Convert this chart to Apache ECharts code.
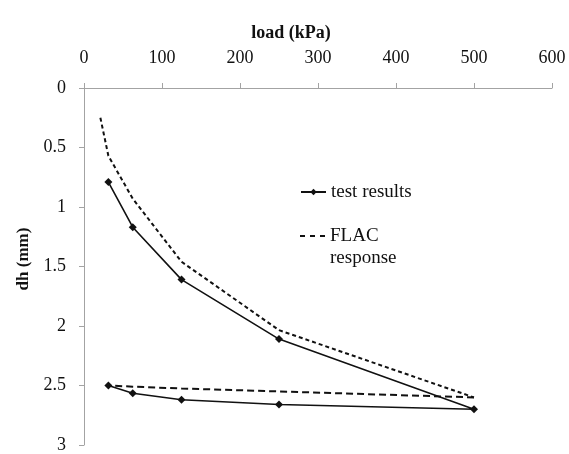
<!DOCTYPE html>
<html>
<head>
<meta charset="utf-8">
<script src="https://cdn.jsdelivr.net/npm/echarts@6/dist/echarts.min.js"></script>
<style>
html,body{margin:0;padding:0;background:#fff;}
#chart{width:569px;height:454px;}
</style>
</head>
<body>
<div id="chart"></div>
<script>
// ---- data ----
var xTicks = [0, 100, 200, 300, 400, 500, 600];
var yTicks = [0, 0.5, 1, 1.5, 2, 2.5, 3];

var testLoad = [31.25, 62.5, 125, 250, 500, 250, 125, 62.5, 31.25];
var testDh   = [0.79, 1.17, 1.61, 2.11, 2.70, 2.66, 2.62, 2.565, 2.50];

var flacLoadUp = [21, 31.25, 62.5, 125, 250, 500];
var flacDhUp   = [0.25, 0.57, 0.93, 1.46, 2.035, 2.60];

var flacLoadDown = [500, 250, 125, 62.5, 31.25];
var flacDhDown   = [2.60, 2.55, 2.525, 2.51, 2.50];

function pairs(xs, ys) { return xs.map(function (x, i) { return [x, ys[i]]; }); }

var serif = '"Liberation Serif", "Times New Roman", serif';
var axisGrey = '#a3a3a3';

var chart = echarts.init(document.getElementById('chart'), null, {renderer: 'canvas'});
chart.setOption({
  backgroundColor: '#ffffff',
  animation: false,
  grid: {left: 84, top: 88, right: 17, bottom: 7, containLabel: false},
  legend: [
    {
      data: ['test results'],
      left: 300, top: 181,
      padding: 0,
      orient: 'vertical',
      itemWidth: 25, itemHeight: 8,
      itemGap: 0,
      textStyle: {fontFamily: serif, fontSize: 19, color: '#111', lineHeight: 22},
      selectedMode: false
    },
    {
      data: [{name: 'FLAC response', icon: 'path://M0,0h5v2h-5z M10,0h5v2h-5z M20,0h5v2h-5z'}],
      left: 300, top: 203,
      padding: 0,
      orient: 'vertical',
      itemWidth: 25, itemHeight: 2,
      itemGap: 0,
      itemStyle: {color: '#111'},
      formatter: function () { return '\u00a0\nFLAC\nresponse'; },
      textStyle: {fontFamily: serif, fontSize: 19, color: '#111', lineHeight: 22},
      selectedMode: false
    }
  ],
  xAxis: {
    type: 'value',
    position: 'top',
    min: xTicks[0], max: xTicks[xTicks.length - 1], interval: 100,
    name: 'load (kPa)',
    nameLocation: 'middle',
    nameGap: 46,
    nameTextStyle: {fontFamily: serif, fontSize: 18, fontWeight: 'bold', color: '#111', padding: [0, 54, 0, 0]},
    axisLine: {show: true, lineStyle: {color: axisGrey, width: 1}},
    axisTick: {show: true, length: 5, lineStyle: {color: axisGrey}},
    axisLabel: {fontFamily: serif, fontSize: 18, color: '#111', margin: 21},
    splitLine: {show: false}
  },
  yAxis: {
    type: 'value',
    inverse: true,
    min: yTicks[0], max: yTicks[yTicks.length - 1], interval: 0.5,
    name: 'dh (mm)',
    nameLocation: 'middle',
    nameGap: 52,
    nameRotate: 90,
    nameTextStyle: {fontFamily: serif, fontSize: 17, fontWeight: 'bold', color: '#111', padding: [0, 0, 0, 15]},
    axisLine: {show: true, lineStyle: {color: axisGrey, width: 1}},
    axisTick: {show: true, length: 5, lineStyle: {color: axisGrey}},
    axisLabel: {fontFamily: serif, fontSize: 18, color: '#111', margin: 18},
    splitLine: {show: false}
  },
  series: [
    {
      name: 'test results',
      type: 'line',
      data: pairs(testLoad, testDh),
      symbol: 'diamond',
      symbolSize: 8,
      showSymbol: true,
      itemStyle: {color: '#111'},
      lineStyle: {color: '#111', width: 1.6},
      z: 3
    },
    {
      name: 'FLAC response',
      type: 'line',
      data: pairs(flacLoadUp, flacDhUp),
      symbol: 'none',
      itemStyle: {color: '#111'},
      lineStyle: {color: '#111', width: 2, type: [4, 3]},
      z: 2
    },
    {
      name: 'FLAC response',
      type: 'line',
      data: pairs(flacLoadDown, flacDhDown),
      symbol: 'none',
      itemStyle: {color: '#111'},
      lineStyle: {color: '#111', width: 2, type: [7, 4]},
      z: 2
    }
  ]
});
</script>
</body>
</html>
